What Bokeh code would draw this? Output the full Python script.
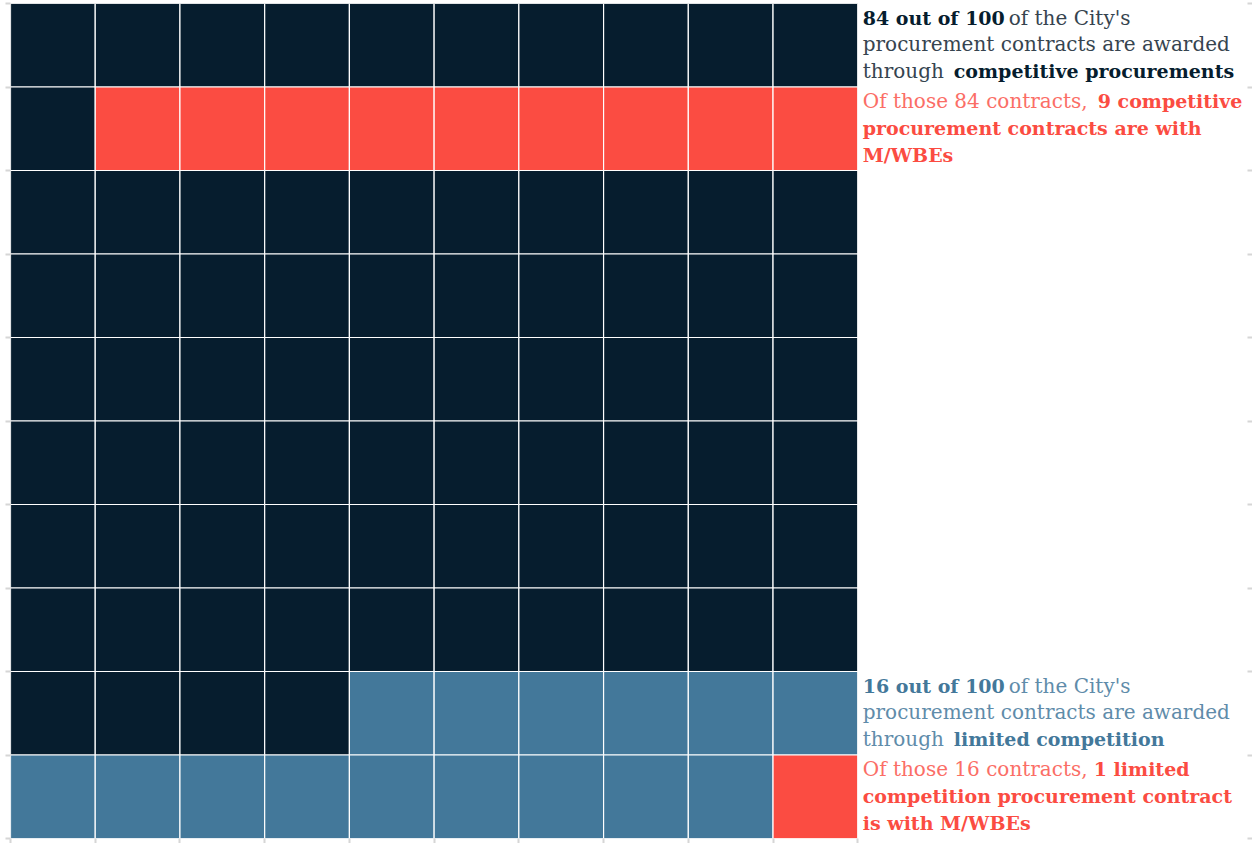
from bokeh.plotting import figure
from bokeh.models import ColumnDataSource, Range1d, LinearAxis, FixedTicker, CustomJSTickFormatter
from bokeh.embed import file_html
from bokeh.resources import INLINE
from bokeh.core.properties import value

# ---- data ----
categories = ["Competitive, not M/WBE", "Competitive, M/WBE", "Limited, not M/WBE", "Limited, M/WBE"]
cat_colors = ["#061d2e", "#fb4c42", "#43789a", "#fb4c42"]
# runs of cells in reading order (left->right, top->bottom)
run_category = [0, 1, 0, 2, 3]
run_count = [11, 9, 64, 15, 1]
n_cols = 10

# annotation text segments
ann_rows = [0, 0, 0, 0, 0, 1, 1, 1, 1, 8, 8, 8, 8, 8, 9, 9, 9, 9]
ann_lines = [0, 0, 1, 2, 2, 0, 0, 1, 2, 0, 0, 1, 2, 2, 0, 0, 1, 2]
ann_text = [
    "84 out of 100", "of the City's", "procurement contracts are awarded", "through", "competitive procurements",
    "Of those 84 contracts,", "9 competitive", "procurement contracts are with", "M/WBEs",
    "16 out of 100", "of the City's", "procurement contracts are awarded", "through", "limited competition",
    "Of those 16 contracts,", "1 limited", "competition procurement contract", "is with M/WBEs",
]
ann_bold = [1, 0, 0, 0, 1, 0, 1, 1, 1, 1, 0, 0, 0, 1, 0, 1, 1, 1]
ann_key = ["d", "d", "d", "d", "d", "r", "r", "r", "r", "b", "b", "b", "b", "b", "r", "r", "r", "r"]
ann_xoff = [5, 151, 5, 5, 96, 5, 240, 5, 5, 5, 151, 5, 5, 96, 5, 236, 5, 5]

# ---- build cells ----
xs, ys, cols, labs = [], [], [], []
i = 0
for cat, cnt in zip(run_category, run_count):
    for _ in range(cnt):
        r, c = divmod(i, n_cols)
        xs.append(c + 0.5)
        ys.append(r + 0.5)
        cols.append(cat_colors[cat])
        labs.append(categories[cat])
        i += 1
n_rows = (i + n_cols - 1) // n_cols
cells = ColumnDataSource(dict(x=xs, y=ys, color=cols, label=labs))

W, H = 1252, 843
p = figure(width=W, height=H, output_backend="svg", toolbar_location=None,
           x_range=Range1d(0, 14.6), y_range=Range1d(n_rows, 0),
           x_axis_type=None, y_axis_type=None,
           min_border_left=10, min_border_top=3, min_border_right=5, min_border_bottom=5)
p.outline_line_color = None
p.xgrid.visible = False
p.ygrid.visible = False
p.background_fill_color = "white"
p.border_fill_color = "white"

p.rect("x", "y", width=1, height=1, source=cells, fill_color="color",
       line_color="white", line_width=1.2)

def make_axis(ticks):
    ax = LinearAxis(ticker=FixedTicker(ticks=ticks),
                    formatter=CustomJSTickFormatter(code="return ''"))
    ax.axis_line_color = None
    ax.major_tick_line_color = "#d6d6d6"
    ax.major_tick_line_width = 2
    ax.major_tick_in = 0
    ax.major_tick_out = 5
    ax.minor_tick_line_color = None
    ax.major_label_standoff = 0
    ax.major_label_text_font_size = "1px"
    return ax

p.add_layout(make_axis(list(range(n_rows + 1))), "left")
p.add_layout(make_axis(list(range(n_rows + 1))), "right")
p.add_layout(make_axis(list(range(n_cols + 1))), "below")

key_color = {"d": ("#061d2e", "#36444f"), "r": ("#fb4c42", "#fb6e66"), "b": ("#43789a", "#5f8caa")}
line_pos = [0.17, 0.49, 0.81]
tsrc = ColumnDataSource(dict(
    x=[n_cols] * len(ann_text),
    y=[r + line_pos[l] for r, l in zip(ann_rows, ann_lines)],
    text=ann_text,
    xoff=ann_xoff,
    style=["bold" if b else "normal" for b in ann_bold],
    size=["19px" if b else "20px" for b in ann_bold],
    color=[key_color[k][0] if b else key_color[k][1] for k, b in zip(ann_key, ann_bold)],
))
p.text("x", "y", text="text", source=tsrc, x_offset="xoff", text_font=value("DejaVu Serif"),
       text_font_size="size", text_font_style="style", text_color="color",
       text_baseline="middle", text_align="left")

open("out.html", "w").write(file_html(p, INLINE))
